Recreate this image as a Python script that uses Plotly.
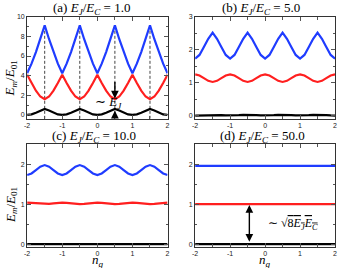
import plotly.graph_objects as go

# ---------------- data ----------------
ng = [-2, -1.875, -1.75, -1.625, -1.5, -1.375, -1.25, -1.125, -1, -0.875, -0.75, -0.625,
      -0.5, -0.375, -0.25, -0.125, 0, 0.125, 0.25, 0.375, 0.5, 0.625, 0.75, 0.875,
      1, 1.125, 1.25, 1.375, 1.5, 1.625, 1.75, 1.875, 2]

# (a) EJ/EC = 1
black_a = [0.00, 0.05, 0.22, 0.45, 0.60, 0.45, 0.22, 0.05, 0.00, 0.05, 0.22, 0.45, 0.60, 0.45, 0.22, 0.05,
           0.00, 0.05, 0.22, 0.45, 0.60, 0.45, 0.22, 0.05, 0.00, 0.05, 0.22, 0.45, 0.60, 0.45, 0.22, 0.05, 0.00]
red_a = [4.10, 3.25, 2.47, 1.87, 1.60, 1.87, 2.47, 3.25, 4.10, 3.25, 2.47, 1.87, 1.60, 1.87, 2.47, 3.25,
         4.10, 3.25, 2.47, 1.87, 1.60, 1.87, 2.47, 3.25, 4.10, 3.25, 2.47, 1.87, 1.60, 1.87, 2.47, 3.25, 4.10]
blue_a = [4.25, 5.22, 6.40, 7.71, 9.12, 7.71, 6.40, 5.22, 4.25, 5.22, 6.40, 7.71, 9.12, 7.71, 6.40, 5.22,
          4.25, 5.22, 6.40, 7.71, 9.12, 7.71, 6.40, 5.22, 4.25, 5.22, 6.40, 7.71, 9.12, 7.71, 6.40, 5.22, 4.25]

# (b) EJ/EC = 5
black_b = [0.000, 0.003, 0.010, 0.017, 0.020, 0.017, 0.010, 0.003, 0.000, 0.003, 0.010, 0.017, 0.020, 0.017, 0.010, 0.003,
           0.000, 0.003, 0.010, 0.017, 0.020, 0.017, 0.010, 0.003, 0.000, 0.003, 0.010, 0.017, 0.020, 0.017, 0.010, 0.003, 0.000]
red_b = [1.250, 1.216, 1.135, 1.054, 1.020, 1.054, 1.135, 1.216, 1.250, 1.216, 1.135, 1.054, 1.020, 1.054, 1.135, 1.216,
         1.250, 1.216, 1.135, 1.054, 1.020, 1.054, 1.135, 1.216, 1.250, 1.216, 1.135, 1.054, 1.020, 1.054, 1.135, 1.216, 1.250]
blue_b = [1.73, 1.84, 2.08, 2.33, 2.52, 2.33, 2.08, 1.84, 1.73, 1.84, 2.08, 2.33, 2.52, 2.33, 2.08, 1.84,
          1.73, 1.84, 2.08, 2.33, 2.52, 2.33, 2.08, 1.84, 1.73, 1.84, 2.08, 2.33, 2.52, 2.33, 2.08, 1.84, 1.73]

# (c) EJ/EC = 10
black_c = [0.0, 0.0]
red_c = [1.040, 1.034, 1.020, 1.006, 1.000, 1.006, 1.020, 1.034, 1.040, 1.034, 1.020, 1.006, 1.000, 1.006, 1.020, 1.034,
         1.040, 1.034, 1.020, 1.006, 1.000, 1.006, 1.020, 1.034, 1.040, 1.034, 1.020, 1.006, 1.000, 1.006, 1.020, 1.034, 1.040]
blue_c = [1.73, 1.77, 1.855, 1.94, 1.98, 1.94, 1.855, 1.77, 1.73, 1.77, 1.855, 1.94, 1.98, 1.94, 1.855, 1.77,
          1.73, 1.77, 1.855, 1.94, 1.98, 1.94, 1.855, 1.77, 1.73, 1.77, 1.855, 1.94, 1.98, 1.94, 1.855, 1.77, 1.73]

# (d) EJ/EC = 50
ng_ends = [-2, 2]
black_d = [0.0, 0.0]
red_d = [1.0, 1.0]
blue_d = [1.96, 1.96]

titles = ["(a) <i>E<sub>J</sub></i>/<i>E<sub>C</sub></i> = 1.0",
          "(b) <i>E<sub>J</sub></i>/<i>E<sub>C</sub></i> = 5.0",
          "(c) <i>E<sub>J</sub></i>/<i>E<sub>C</sub></i> = 10.0",
          "(d) <i>E<sub>J</sub></i>/<i>E<sub>C</sub></i> = 50.0"]

xtick_vals = [-2, -1, 0, 1, 2]
xtick_text = ["-2", "-1", "0", "1", "2"]
ytick_a = [0, 2, 4, 6, 8, 10]
ytick_b = [0, 1, 2, 3]
ytick_cd = [0, 1, 2]

dash_x = [-1.5, -0.5, 0.5, 1.5]
dash_top = 9.12

# ---------------- style ----------------
W, H = 340, 268
BLUE = "#1f3cff"
RED = "#ff1f1f"
BLACK = "#000000"
LW = 2.2

def px_x(p):
    return p / W

def px_y(p):
    return 1 - p / H

dom_x_left = [px_x(24.5), px_x(167)]
dom_x_right = [px_x(195), px_x(337)]
dom_y_top = [px_y(117), px_y(13)]
dom_y_bot = [px_y(247.5), px_y(143)]

fig = go.Figure()

def add_line(x, y, color, ax):
    xa = "x" if ax == 1 else f"x{ax}"
    ya = "y" if ax == 1 else f"y{ax}"
    fig.add_trace(go.Scatter(x=x, y=y, mode="lines", line=dict(color=color, width=LW),
                             xaxis=xa, yaxis=ya, showlegend=False, hoverinfo="skip"))

# dashed guide lines in (a)
for xv in dash_x:
    fig.add_trace(go.Scatter(x=[xv, xv], y=[-0.4, dash_top], mode="lines",
                             line=dict(color="#444444", width=1, dash="3px,2px"),
                             xaxis="x", yaxis="y", showlegend=False, hoverinfo="skip"))

add_line(ng, blue_a, BLUE, 1)
add_line(ng, red_a, RED, 1)
add_line(ng, black_a, BLACK, 1)
add_line(ng, blue_b, BLUE, 2)
add_line(ng, red_b, RED, 2)
add_line(ng, black_b, BLACK, 2)
add_line(ng, blue_c, BLUE, 3)
add_line(ng, red_c, RED, 3)
add_line(ng_ends, black_c, BLACK, 3)
add_line(ng_ends, blue_d, BLUE, 4)
add_line(ng_ends, red_d, RED, 4)
add_line(ng_ends, black_d, BLACK, 4)

tickfont = dict(family="Liberation Sans, Arial, sans-serif", size=7, color="#222")

def xaxis(domain, anchor):
    return dict(domain=domain, anchor=anchor, range=[-2, 2], tickvals=xtick_vals, ticktext=xtick_text,
                showline=True, mirror="allticks", linecolor="#333", linewidth=1,
                ticks="inside", ticklen=4, tickcolor="#555", tickwidth=1,
                minor=dict(ticks="inside", ticklen=3, dtick=0.5, tick0=0, tickcolor="#555"),
                showgrid=False, zeroline=False, tickfont=tickfont, fixedrange=True)

def yaxis(domain, anchor, rng, tv, minor_dt):
    return dict(domain=domain, anchor=anchor, range=rng, tickvals=tv,
                showline=True, mirror="allticks", linecolor="#333", linewidth=1,
                ticks="inside", ticklen=4, tickcolor="#555", tickwidth=1,
                minor=dict(ticks="inside", ticklen=2, dtick=minor_dt, tick0=0, tickcolor="#555"),
                showgrid=False, zeroline=False, tickfont=tickfont, fixedrange=True)

fig.update_layout(
    width=W, height=H,
    margin=dict(l=0, r=0, t=0, b=0),
    paper_bgcolor="white", plot_bgcolor="white",
    xaxis=xaxis(dom_x_left, "y"),
    yaxis=yaxis(dom_y_top, "x", [-0.4, 10], ytick_a, 1),
    xaxis2=xaxis(dom_x_right, "y2"),
    yaxis2=yaxis(dom_y_top, "x2", [-0.1, 3], ytick_b, 0.5),
    xaxis3=xaxis(dom_x_left, "y3"),
    yaxis3=yaxis(dom_y_bot, "x3", [-0.07, 2.5], ytick_cd, 0.5),
    xaxis4=xaxis(dom_x_right, "y4"),
    yaxis4=yaxis(dom_y_bot, "x4", [-0.07, 2.5], ytick_cd, 0.5),
)

serif = "Liberation Serif"
ann = []
# panel titles
for t, cx, cy in [(titles[0], 90, 5), (titles[1], 262, 5), (titles[2], 92, 135), (titles[3], 263, 135)]:
    ann.append(dict(text=t, x=px_x(cx), y=px_y(cy), xref="paper", yref="paper",
                    showarrow=False, font=dict(family=serif, size=13, color="#000", weight="normal"),
                    xanchor="center", yanchor="middle"))
# y-axis titles
for cy in [76, 205]:
    ann.append(dict(text="<i>E<sub>m</sub></i>/<i>E</i><sub>01</sub>", x=px_x(8), y=px_y(cy),
                    xref="paper", yref="paper", showarrow=False, textangle=-90,
                    font=dict(family=serif, size=13, color="#000"), xanchor="center", yanchor="middle"))
# x-axis titles
for cx in [96, 266]:
    ann.append(dict(text="<i>n<sub>g</sub></i>", x=px_x(cx), y=px_y(261), xref="paper", yref="paper",
                    showarrow=False, font=dict(family=serif, size=13, color="#000"),
                    xanchor="center", yanchor="middle"))

# arrows in (a)
ann.append(dict(x=0.5, y=1.68, ax=0.5, ay=3.5, xref="x", yref="y", axref="x", ayref="y",
                showarrow=True, arrowhead=2, arrowsize=1.1, arrowwidth=1.4, arrowcolor="black", text=""))
ann.append(dict(x=0.5, y=0.42, ax=0.5, ay=-0.4, xref="x", yref="y", axref="x", ayref="y",
                showarrow=True, arrowhead=2, arrowsize=1.1, arrowwidth=1.4, arrowcolor="black", text=""))
ann.append(dict(text="∼ <i>E<sub>J</sub></i>", x=0.33, y=1.3, xref="x", yref="y", showarrow=False,
                font=dict(family=serif, size=13, color="#000"), xanchor="center", yanchor="middle"))

# double arrow in (d)
ann.append(dict(x=-0.45, y=0.98, ax=-0.45, ay=0.02, xref="x4", yref="y4", axref="x4", ayref="y4",
                showarrow=True, arrowhead=2, startarrowhead=2, arrowside="end+start",
                arrowsize=1.1, startarrowsize=1.1, arrowwidth=1.4, arrowcolor="black", text=""))
ann.append(dict(text="∼ √<span style='text-decoration:overline'>8<i>E<sub>J</sub>E<sub>C</sub></i></span>",
                x=0.79, y=0.5, xref="x4", yref="y4", showarrow=False,
                font=dict(family=serif, size=12, color="#000"), xanchor="center", yanchor="middle"))

fig.update_layout(annotations=ann)
fig.write_html("out.html", config={"displayModeBar": False, "staticPlot": True},
               post_script="document.body.style.margin='0';document.body.style.overflow='hidden';")
